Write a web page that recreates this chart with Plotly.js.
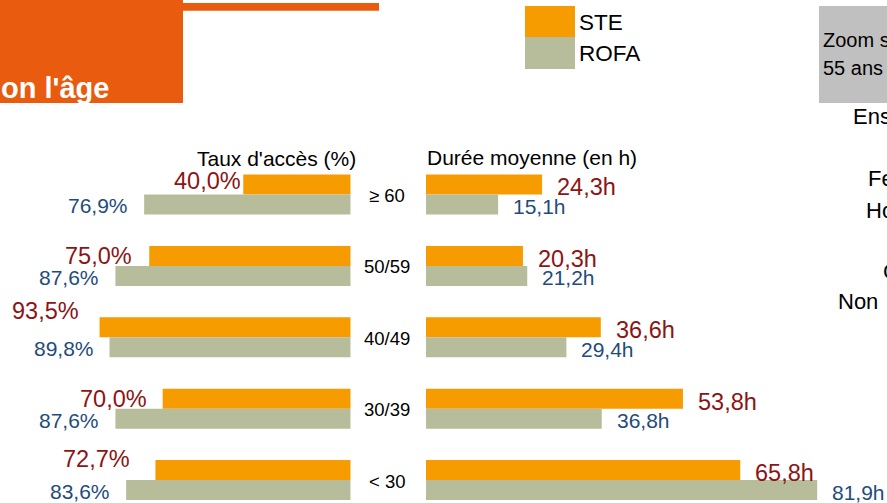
<!DOCTYPE html>
<html>
<head>
<meta charset="utf-8">
<script src="https://cdn.plot.ly/plotly-3.0.1.min.js"></script>
<style>html,body{margin:0;padding:0;background:#fff;}#chart{width:887px;height:503px;}</style>
</head>
<body>
<div id="chart"></div>
<script>
// ---- data ----
const categories = ['≥ 60', '50/59', '40/49', '30/39', '< 30'];
const steTaux    = [40.0, 75.0, 93.5, 70.0, 72.7];
const rofaTaux   = [76.9, 87.6, 89.8, 87.6, 83.6];
const steDuree   = [24.3, 20.3, 36.6, 53.8, 65.8];
const rofaDuree  = [15.1, 21.2, 29.4, 36.8, 81.9];
const seriesNames = ['STE', 'ROFA'];

// ---- style ----
const W = 887, H = 503;
const ORANGE = '#F69B00', SAGE = '#B7BD9B', HEAD = '#E95B0E', GREYBOX = '#C0C0C0';
const RED = '#8C1414', BLUE = '#1F4C7C';
const FONT = 'Liberation Sans, Arial, sans-serif';
// hand placement nudges of the STE access-rate labels as in the source slide [dx px, dy px]
const steTauxLabelNudge = [[14, 3], [-1, 0], [-5, 16], [0, 0], [-9, 11]];
const px = x => x / W;
const py = y => 1 - y / H;
const fmt = (v, unit) => v.toFixed(1).replace('.', ',') + unit;

const traces = [
  {type: 'bar', orientation: 'h', name: seriesNames[0], y: categories, x: steTaux,
   xaxis: 'x', yaxis: 'y', marker: {color: ORANGE}, hoverinfo: 'none'},
  {type: 'bar', orientation: 'h', name: seriesNames[1], y: categories, x: rofaTaux,
   xaxis: 'x', yaxis: 'y', marker: {color: SAGE}, hoverinfo: 'none'},
  {type: 'bar', orientation: 'h', name: seriesNames[0], y: categories, x: steDuree,
   xaxis: 'x2', yaxis: 'y', marker: {color: ORANGE}, hoverinfo: 'none'},
  {type: 'bar', orientation: 'h', name: seriesNames[1], y: categories, x: rofaDuree,
   xaxis: 'x2', yaxis: 'y', marker: {color: SAGE}, hoverinfo: 'none'}
];

const annotations = [];
// value labels
categories.forEach((c, i) => {
  const n = steTauxLabelNudge[i];
  annotations.push({xref: 'x', yref: 'y', x: steTaux[i], y: c, yshift: 10 + n[1], xanchor: 'right', xshift: -15 + n[0],
    text: fmt(steTaux[i], '%'), showarrow: false, borderpad: 0, font: {family: FONT, size: 23.5, color: RED}});
  annotations.push({xref: 'x', yref: 'y', x: rofaTaux[i], y: c, yshift: -11.5, xanchor: 'right', xshift: -15,
    text: fmt(rofaTaux[i], '%'), showarrow: false, borderpad: 0, font: {family: FONT, size: 21, color: BLUE}});
  annotations.push({xref: 'x2', yref: 'y', x: steDuree[i], y: c, yshift: 7, xanchor: 'left', xshift: 14,
    text: fmt(steDuree[i], 'h'), showarrow: false, borderpad: 0, font: {family: FONT, size: 23.5, color: RED}});
  annotations.push({xref: 'x2', yref: 'y', x: rofaDuree[i], y: c, yshift: -12, xanchor: 'left', xshift: 14,
    text: fmt(rofaDuree[i], 'h'), showarrow: false, borderpad: 0, font: {family: FONT, size: 21, color: BLUE}});
  // category label
  annotations.push({xref: 'paper', yref: 'y', x: px(387), y: c, yshift: -1, xanchor: 'center',
    text: c, showarrow: false, font: {family: FONT, size: 18.5, color: '#000'}});
});

// panel titles
annotations.push({xref: 'paper', yref: 'paper', x: px(276.5), y: py(159), xanchor: 'center', yanchor: 'middle',
  text: "Taux d'accès (%)", showarrow: false, borderpad: 0, font: {family: FONT, size: 21, color: '#000'}});
annotations.push({xref: 'paper', yref: 'paper', x: px(425), y: py(157), xanchor: 'left', yanchor: 'middle',
  text: 'Durée moyenne (en h)', showarrow: false, font: {family: FONT, size: 21, color: '#000'}});

// legend texts
annotations.push({xref: 'paper', yref: 'paper', x: px(577), y: py(22), xanchor: 'left', yanchor: 'middle',
  text: seriesNames[0], showarrow: false, font: {family: FONT, size: 22.5, color: '#000'}});
annotations.push({xref: 'paper', yref: 'paper', x: px(577), y: py(53), xanchor: 'left', yanchor: 'middle',
  text: seriesNames[1], showarrow: false, font: {family: FONT, size: 22.5, color: '#000'}});

// header title (cropped in the source)
annotations.push({xref: 'paper', yref: 'paper', x: px(111), y: py(88), xanchor: 'right', yanchor: 'middle',
  text: "<b>on l'âge</b>", showarrow: false, font: {family: FONT, size: 29, color: '#fff'}});

// grey zoom box text (cropped in the source)
annotations.push({xref: 'paper', yref: 'paper', x: px(821), y: py(40), xanchor: 'left', yanchor: 'middle',
  text: 'Zoom s', showarrow: false, font: {family: FONT, size: 20, color: '#000'}});
annotations.push({xref: 'paper', yref: 'paper', x: px(821), y: py(68), xanchor: 'left', yanchor: 'middle',
  text: '55 ans', showarrow: false, font: {family: FONT, size: 20, color: '#000'}});

// right side texts (cropped in the source)
[['Ens', 851, 116], ['Fe', 866, 178], ['Ho', 864, 210], ['C', 881, 271], ['Non', 836, 301]].forEach(t => {
  annotations.push({xref: 'paper', yref: 'paper', x: px(t[1]), y: py(t[2]), xanchor: 'left', yanchor: 'middle',
    text: t[0], showarrow: false, font: {family: FONT, size: 22, color: '#000'}});
});

const shapes = [
  {type: 'rect', xref: 'paper', yref: 'paper', x0: px(-2), x1: px(183), y0: py(103), y1: py(-2),
   fillcolor: HEAD, line: {width: 0}, layer: 'below'},
  {type: 'rect', xref: 'paper', yref: 'paper', x0: px(183), x1: px(379), y0: py(10.7), y1: py(3),
   fillcolor: HEAD, line: {width: 0}, layer: 'below'},
  {type: 'rect', xref: 'paper', yref: 'paper', x0: px(525), x1: px(575), y0: py(37), y1: py(6),
   fillcolor: ORANGE, line: {width: 0}},
  {type: 'rect', xref: 'paper', yref: 'paper', x0: px(525), x1: px(575), y0: py(69), y1: py(37),
   fillcolor: SAGE, line: {width: 0}},
  {type: 'rect', xref: 'paper', yref: 'paper', x0: px(819), x1: px(890), y0: py(103), y1: py(6),
   fillcolor: GREYBOX, line: {width: 0}, layer: 'below'}
];

const layout = {
  width: W, height: H, autosize: false,
  margin: {l: 0, r: 0, t: 0, b: 0, pad: 0},
  paper_bgcolor: '#fff', plot_bgcolor: 'rgba(0,0,0,0)',
  showlegend: false,
  barmode: 'group', bargap: 0.44, bargroupgap: 0,
  font: {family: FONT},
  xaxis: {domain: [px(82.1), px(350.7)], range: [100, 0], visible: false, fixedrange: true},
  xaxis2: {domain: [px(426), px(426 + 4.776 * 90)], range: [0, 90], anchor: 'y', visible: false, fixedrange: true},
  yaxis: {type: 'category', categoryorder: 'array', categoryarray: categories,
          range: [4.321, -2.724], visible: false, fixedrange: true},
  annotations: annotations,
  shapes: shapes
};

Plotly.newPlot('chart', traces, layout, {displayModeBar: false, staticPlot: true});
</script>
</body>
</html>
